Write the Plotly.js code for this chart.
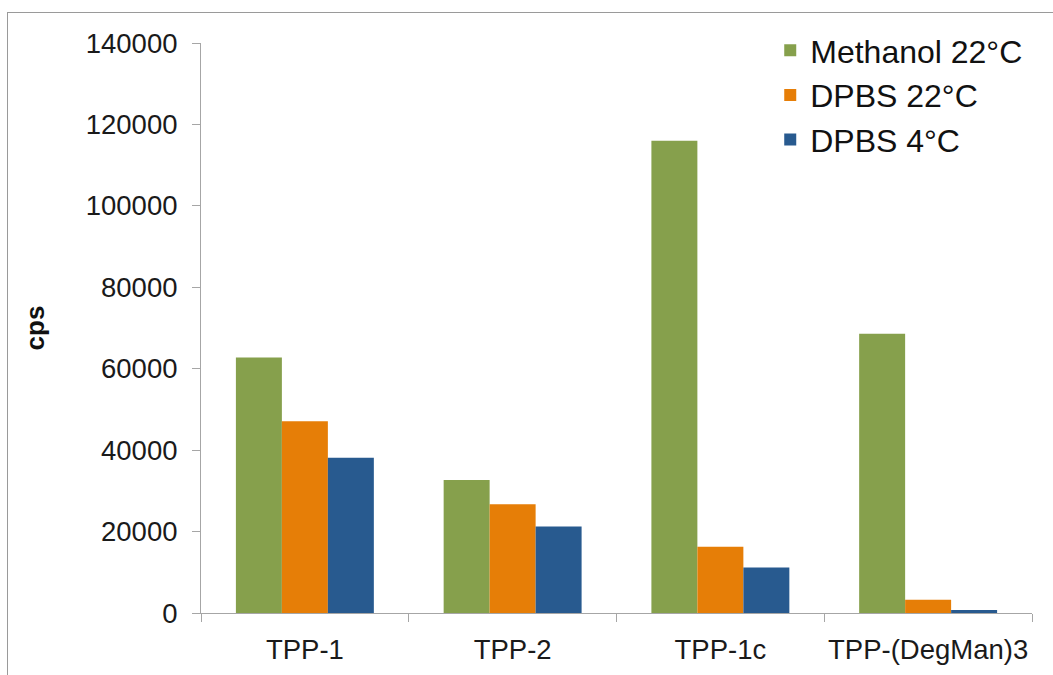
<!DOCTYPE html>
<html>
<head>
<meta charset="utf-8">
<script src="https://cdn.plot.ly/plotly-3.0.1.min.js"></script>
<style>
  html, body { margin:0; padding:0; background:#fff; overflow:hidden; }
  #wrap { position:relative; width:1053px; height:675px; }
  #chart { position:absolute; left:0; top:0; width:1053px; height:675px; }
  #frame { position:absolute; left:7px; top:12px; width:2000px; height:2000px;
           border-top:1px solid #9a9a9a; border-left:1px solid #9a9a9a; pointer-events:none; }
</style>
</head>
<body>
<div id="wrap">
  <div id="chart"></div>
  <div id="frame"></div>
</div>
<script>
const categories = ["TPP-1", "TPP-2", "TPP-1c", "TPP-(DegMan)3"];
const methanol22 = [62750, 32640, 116000, 68570];
const dpbs22 = [47120, 26720, 16270, 3260];
const dpbs4 = [38140, 21230, 11190, 740];
const seriesNames = ["Methanol 22°C", "DPBS 22°C", "DPBS 4°C"];
const colors = ["#86a04c", "#e67e07", "#285a8f"];
const yTicks = [0, 20000, 40000, 60000, 80000, 100000, 120000, 140000];

const font = "Liberation Sans, Arial, sans-serif";
const seriesValues = [methanol22, dpbs22, dpbs4];
const data = seriesValues.map((vals, i) => ({
  type: "bar",
  name: seriesNames[i],
  x: categories,
  y: vals,
  marker: { color: colors[i], line: { width: 0 } }
}));

const layout = {
  width: 1053, height: 675,
  paper_bgcolor: "#fff", plot_bgcolor: "#fff",
  margin: { l: 201, r: 21, t: 42.5, b: 62 },
  barmode: "group",
  bargap: 0.336,
  bargroupgap: 0,
  font: { family: font, color: "#1a1a1a" },
  showlegend: true,
  legend: {
    x: 0.685, y: 1.035, xanchor: "left", yanchor: "top",
    bgcolor: "rgba(0,0,0,0)",
    font: { size: 32, family: font, color: "#111" },
    traceorder: "normal"
  },
  xaxis: {
    type: "category",
    showline: true, linecolor: "#a6a6a6", linewidth: 1,
    ticks: "outside", tickson: "boundaries", ticklen: 8, tickcolor: "#a6a6a6",
    ticklabelstandoff: 12,
    tickangle: 0,
    showgrid: false, zeroline: false,
    tickfont: { size: 27.5, family: font, color: "#1a1a1a" }
  },
  yaxis: {
    range: [0, 140000],
    tickvals: yTicks,
    tickformat: "d",
    showline: true, linecolor: "#a6a6a6", linewidth: 1,
    ticks: "outside", ticklen: 8, tickcolor: "#a6a6a6",
    ticklabelstandoff: 9,
    showgrid: false, zeroline: false,
    tickfont: { size: 27.5, family: font, color: "#1a1a1a" },
    title: { text: "<b>cps</b>", standoff: 33, font: { size: 26, family: font, color: "#111" } }
  }
};

Plotly.newPlot("chart", data, layout, { displayModeBar: false, staticPlot: true });
</script>
</body>
</html>
